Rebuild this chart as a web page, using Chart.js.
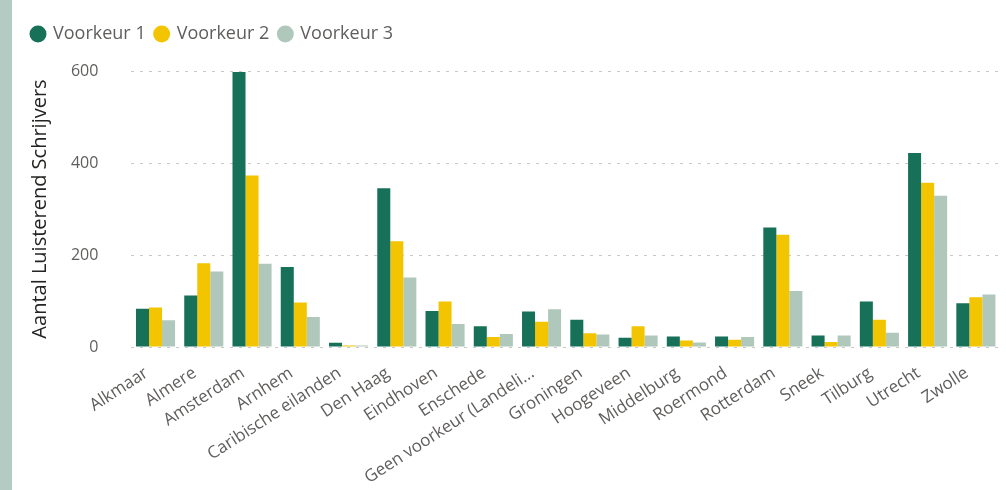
<!DOCTYPE html>
<html>
<head>
<meta charset="utf-8">
<script src="https://cdn.jsdelivr.net/npm/chart.js@4"></script>
<style>
  html, body { margin: 0; padding: 0; background: #fff; }
  #wrap { position: relative; width: 1006px; height: 490px; }
  #sidebar { position: absolute; left: 0; top: 0; width: 12px; height: 490px; background: #b4cbc3; }
  canvas { position: absolute; left: 0; top: 0; }
</style>
</head>
<body>
<div id="wrap">
  <div id="sidebar"></div>
  <canvas id="chart" width="1006" height="490"></canvas>
</div>
<script>
const categories = [
  "Alkmaar", "Almere", "Amsterdam", "Arnhem", "Caribische eilanden", "Den Haag",
  "Eindhoven", "Enschede", "Geen voorkeur (Landeli...", "Groningen", "Hoogeveen",
  "Middelburg", "Roermond", "Rotterdam", "Sneek", "Tilburg", "Utrecht", "Zwolle"
];
const voorkeur1 = [83, 112, 598, 174, 9, 345, 78, 45, 77, 59, 20, 23, 23, 260, 25, 99, 422, 95];
const voorkeur2 = [86, 182, 373, 97, 3, 230, 99, 22, 55, 30, 45, 14, 16, 244, 11, 59, 357, 108];
const voorkeur3 = [58, 164, 181, 65, 3, 151, 50, 28, 82, 27, 25, 10, 22, 122, 25, 31, 329, 114];
const yTicks = [0, 200, 400, 600];

const font = "'Open Sans', 'Noto Sans', sans-serif";

// extra room under the legend
const legendGap = {
  id: "legendGap",
  beforeInit(chart) {
    const fit = chart.legend.fit;
    chart.legend.fit = function () {
      fit.call(this);
      this.height += 18;
    };
  },
};

new Chart(document.getElementById("chart").getContext("2d"), {
  type: "bar",
  data: {
    labels: categories,
    datasets: [
      { label: "Voorkeur 1", data: voorkeur1, backgroundColor: "#177058" },
      { label: "Voorkeur 2", data: voorkeur2, backgroundColor: "#f2c500" },
      { label: "Voorkeur 3", data: voorkeur3, backgroundColor: "#b0c8bb" },
    ],
  },
  plugins: [legendGap],
  options: {
    responsive: false,
    animation: false,
    layout: { padding: { left: 22, right: 6, top: 15 } },
    datasets: { bar: { categoryPercentage: 0.81, barPercentage: 1 } },
    plugins: {
      tooltip: { enabled: false },
      legend: {
        position: "top",
        align: "start",
        labels: {
          usePointStyle: true,
          pointStyle: "circle",
          boxWidth: 12,
          boxHeight: 12,
          padding: 10,
          color: "#605e5c",
          font: { family: font, size: 18 },
        },
      },
    },
    scales: {
      x: {
        grid: { display: false },
        border: { display: false },
        afterFit: (scale) => { scale.height = 143; },
        ticks: {
          autoSkip: false,
          minRotation: 33,
          maxRotation: 33,
          padding: 8,
          labelOffset: -9,
          color: "#605e5c",
          font: { family: font, size: 17 },
        },
      },
      y: {
        min: 0,
        max: 600,
        afterFit: (scale) => { scale.width = 109.4; },
        afterBuildTicks: (scale) => { scale.ticks = yTicks.map((v) => ({ value: v })); },
        grid: { color: "#c8c8c8", drawTicks: false, lineWidth: 1 },
        border: { display: false, dash: [3, 6] },
        ticks: {
          padding: 33,
          color: "#605e5c",
          font: { family: font, size: 16 },
        },
        title: {
          display: true,
          text: "Aantal Luisterend Schrijvers",
          color: "#252423",
          padding: { top: 6, bottom: 0 },
          font: { family: font, size: 20 },
        },
      },
    },
  },
});
</script>
</body>
</html>
